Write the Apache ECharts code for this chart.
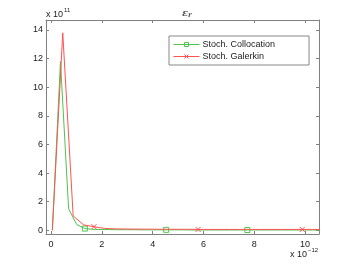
<!DOCTYPE html>
<html><head><meta charset="utf-8">
<script src="https://cdn.jsdelivr.net/npm/echarts@6/dist/echarts.min.js"></script>
<style>html,body{margin:0;padding:0;background:#fff}#c{width:352px;height:264px}</style>
</head><body><div id="c"></div>
<script>
// Data (x in units of 1e-12, y in units of 1e11)
var colX = [0.05,0.37,0.69,1.01,1.33,1.65,1.97,2.29,2.61,2.93,3.25,3.57,3.89,4.21,4.53,4.85,5.17,5.49,5.81,6.13,6.45,6.77,7.09,7.41,7.73,8.05,8.37,8.69,9.01,9.33,9.65,9.97,10.29,10.61];
var colY = [0,11.8,1.5,0.4,0.12,0.07,0.05,0.05,0.04,0.04,0.04,0.03,0.03,0.03,0.03,0.03,0.03,0.02,0.02,0.02,0.02,0.02,0.02,0.02,0.02,0.02,0.02,0.02,0.02,0.02,0.02,0.02,0.02,0.02];
var colMarks = [4,14,24];
var galX = [0.05,0.46,0.87,1.28,1.69,2.10,2.51,2.92,3.33,3.74,4.15,4.56,4.97,5.38,5.79,6.20,6.61,7.02,7.43,7.84,8.25,8.66,9.07,9.48,9.89,10.30,10.71];
var galY = [0,13.8,1.0,0.38,0.25,0.13,0.1,0.09,0.08,0.08,0.07,0.07,0.07,0.07,0.06,0.06,0.06,0.06,0.06,0.06,0.06,0.06,0.06,0.06,0.06,0.06,0.06];
var galMarks = [4,14,24];
var xTicks = [0,2,4,6,8,10];
var yTicks = [0,2,4,6,8,10,12,14];
var seriesNames = ['Stoch. Collocation','Stoch. Galerkin'];

var GREEN = '#4ec44e', RED = '#ff5252';
function build(xs, ys, marks){
  return xs.map(function(x,i){
    var d = {value:[x, ys[i]]};
    if (marks.indexOf(i) < 0) d.symbol = 'none';
    return d;
  });
}
var ch = echarts.init(document.getElementById('c'), null, {renderer:'canvas'});
var FONT = 'Liberation Sans, Arial, sans-serif';
var axisCol = '#808080';
var xCommon = {type:'value', min:-0.2, max:10.55,
  axisLine:{show:true,onZero:false,lineStyle:{color:axisCol,width:1}},
  splitLine:{show:false}};
var yCommon = {type:'value', min:-0.26, max:14.7,
  axisLine:{show:true,onZero:false,lineStyle:{color:axisCol,width:1}},
  splitLine:{show:false}};
ch.setOption({
  animation:false,
  backgroundColor:'#fff',
  color:[GREEN, RED],
  title:{text:'{e|ε}{s|r}', left:177, top:3,
    textStyle:{rich:{e:{fontSize:10,fontStyle:'italic',color:'#555',fontFamily:'DejaVu Serif, serif'},
                     s:{fontSize:7,fontStyle:'italic',color:'#555',verticalAlign:'bottom',padding:[4,0,0,0],fontFamily:'DejaVu Serif, serif'}}}},
  grid:{left:46,right:33,top:20,bottom:30},
  xAxis:[
    Object.assign({}, xCommon, {position:'bottom',
      axisTick:{show:true,inside:true,length:3,lineStyle:{color:axisCol},customValues:xTicks},
      axisLabel:{show:true,customValues:xTicks,color:'#222',fontSize:9,fontFamily:FONT,margin:6}}),
    Object.assign({}, xCommon, {position:'top',
      axisTick:{show:true,inside:true,length:3,lineStyle:{color:axisCol},customValues:xTicks},
      axisLabel:{show:false}})
  ],
  yAxis:[
    Object.assign({}, yCommon, {position:'left',
      axisTick:{show:true,inside:true,length:3,lineStyle:{color:axisCol},customValues:yTicks},
      axisLabel:{show:true,customValues:yTicks,color:'#222',fontSize:9,fontFamily:FONT,margin:3}}),
    Object.assign({}, yCommon, {position:'right',
      axisTick:{show:true,inside:true,length:3,lineStyle:{color:axisCol},customValues:yTicks},
      axisLabel:{show:false}})
  ],
  legend:{
    left:169, top:36, orient:'vertical',
    itemWidth:26, itemHeight:5, itemGap:3,
    padding:[4,34,4,4],
    borderColor:'#888', borderWidth:1, backgroundColor:'#fff',
    textStyle:{fontSize:9, color:'#222', fontFamily:FONT, padding:[0,0,0,-2]},
    data:[
      {name:seriesNames[0], itemStyle:{color:'rgba(0,0,0,0)',borderColor:GREEN,borderWidth:1}, lineStyle:{color:GREEN,width:1}},
      {name:seriesNames[1], itemStyle:{color:'rgba(0,0,0,0)',borderColor:RED,borderWidth:1}, lineStyle:{color:RED,width:1}}
    ]
  },
  series:[
    {name:seriesNames[0], type:'line', xAxisIndex:0, yAxisIndex:0,
     data:build(colX,colY,colMarks), symbol:'rect', symbolSize:5, showAllSymbol:true,
     lineStyle:{color:GREEN,width:1},
     itemStyle:{color:'rgba(0,0,0,0)',borderColor:GREEN,borderWidth:1}, z:2},
    {name:seriesNames[1], type:'line', xAxisIndex:0, yAxisIndex:0,
     data:build(galX,galY,galMarks), symbol:'path://M0,0L10,10M10,0L0,10', symbolSize:5, showAllSymbol:true,
     lineStyle:{color:RED,width:1},
     itemStyle:{color:'rgba(0,0,0,0)',borderColor:RED,borderWidth:1}, z:3}
  ],
  graphic:[
    {type:'text', left:46, top:7, style:{text:'{a|x 10}{b|11}', rich:{a:{fontSize:9,fill:'#222',fontFamily:FONT,verticalAlign:'bottom'},b:{fontSize:6,fill:'#222',fontFamily:FONT,verticalAlign:'top',padding:[0,0,6,1]}}}},
    {type:'text', left:290, top:247, style:{text:'{a|x 10}{b|−12}', rich:{a:{fontSize:9,fill:'#222',fontFamily:FONT,verticalAlign:'bottom'},b:{fontSize:6,fill:'#222',fontFamily:FONT,verticalAlign:'top',padding:[0,0,6,1]}}}}
  ]
});
</script></body></html>
